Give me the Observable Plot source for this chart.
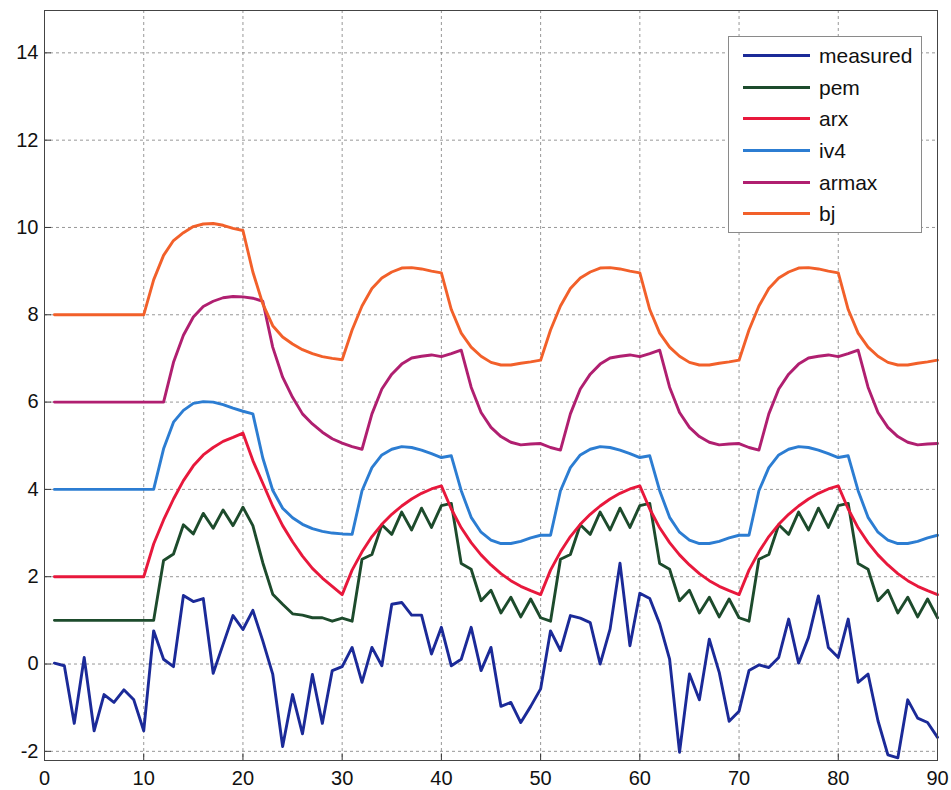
<!DOCTYPE html>
<html>
<head>
<meta charset="utf-8">
<script src="https://cdn.jsdelivr.net/npm/d3@7"></script>
<script src="https://cdn.jsdelivr.net/npm/@observablehq/plot@0.6"></script>
<style>
  body { margin: 0; background: #fff; font-family: "Liberation Sans", Arial, Helvetica, sans-serif; }
  #chart { position: relative; width: 951px; height: 790px; }
  .legend {
    position: absolute; left: 728px; top: 36px; width: 194px; height: 197px;
    box-sizing: border-box; border: 1px solid #8a8a8a; background: #fff;
    padding-top: 3px;
  }
  .legend .row { display: flex; align-items: center; height: 31.6px; }
  .legend .swatch { width: 67px; height: 3px; margin-left: 14px; margin-right: 9px; }
  .legend .label { font-size: 21px; color: #111; line-height: 1; }
</style>
</head>
<body>
<div id="chart"></div>
<script>
// Sample index (time steps 1..90)
const steps = d3.range(1, 91);

const measured = [
  0.02, -0.04, -1.36, 0.15, -1.53, -0.70, -0.88, -0.59, -0.82, -1.53,
  0.76, 0.11, -0.06, 1.57, 1.43, 1.50, -0.21, 0.45, 1.11, 0.79,
  1.23, 0.53, -0.23, -1.89, -0.70, -1.60, -0.24, -1.36, -0.15, -0.06,
  0.38, -0.42, 0.38, -0.04, 1.37, 1.41, 1.12, 1.12, 0.23, 0.84,
  -0.04, 0.11, 0.84, -0.15, 0.38, -0.97, -0.88, -1.34, -0.97, -0.57,
  0.76, 0.31, 1.11, 1.05, 0.95, 0.00, 0.80, 2.31, 0.42, 1.62,
  1.50, 0.92, 0.11, -2.02, -0.23, -0.82, 0.57, -0.19, -1.31, -1.08,
  -0.15, -0.02, -0.08, 0.15, 1.03, 0.02, 0.61, 1.56, 0.38, 0.15,
  1.03, -0.42, -0.23, -1.30, -2.08, -2.15, -0.82, -1.24, -1.34, -1.68
];

const pem = [
  1.00, 1.00, 1.00, 1.00, 1.00, 1.00, 1.00, 1.00, 1.00, 1.00,
  1.00, 2.37, 2.52, 3.19, 2.98, 3.45, 3.11, 3.53, 3.17, 3.59,
  3.17, 2.32, 1.60, 1.37, 1.15, 1.12, 1.06, 1.06, 0.98, 1.05,
  0.98, 2.40, 2.51, 3.19, 2.97, 3.48, 3.07, 3.57, 3.13, 3.63,
  3.68, 2.30, 2.17, 1.45, 1.69, 1.17, 1.53, 1.08, 1.49, 1.06,
  0.98, 2.40, 2.51, 3.19, 2.97, 3.48, 3.07, 3.57, 3.13, 3.63,
  3.68, 2.30, 2.17, 1.45, 1.69, 1.17, 1.53, 1.08, 1.49, 1.06,
  0.98, 2.40, 2.51, 3.19, 2.97, 3.48, 3.07, 3.57, 3.13, 3.63,
  3.68, 2.30, 2.17, 1.45, 1.69, 1.17, 1.53, 1.08, 1.49, 1.06
];

const arx = [
  2.00, 2.00, 2.00, 2.00, 2.00, 2.00, 2.00, 2.00, 2.00, 2.00,
  2.75, 3.30, 3.78, 4.20, 4.54, 4.79, 4.96, 5.10, 5.19, 5.29,
  4.66, 4.14, 3.62, 3.17, 2.80, 2.47, 2.19, 1.97, 1.78, 1.59,
  2.15, 2.57, 2.92, 3.20, 3.43, 3.62, 3.78, 3.91, 4.01, 4.08,
  3.55, 3.12, 2.78, 2.50, 2.27, 2.07, 1.91, 1.78, 1.68, 1.59,
  2.15, 2.57, 2.92, 3.20, 3.43, 3.62, 3.78, 3.91, 4.01, 4.08,
  3.55, 3.12, 2.78, 2.50, 2.27, 2.07, 1.91, 1.78, 1.68, 1.59,
  2.15, 2.57, 2.92, 3.20, 3.43, 3.62, 3.78, 3.91, 4.01, 4.08,
  3.55, 3.12, 2.78, 2.50, 2.27, 2.07, 1.91, 1.78, 1.68, 1.59
];

const iv4 = [
  4.00, 4.00, 4.00, 4.00, 4.00, 4.00, 4.00, 4.00, 4.00, 4.00,
  4.00, 4.93, 5.54, 5.81, 5.97, 6.01, 6.00, 5.94, 5.86, 5.79,
  5.73, 4.72, 3.98, 3.57, 3.35, 3.20, 3.10, 3.04, 3.00, 2.98,
  2.97, 3.97, 4.50, 4.79, 4.92, 4.98, 4.96, 4.90, 4.82, 4.73,
  4.77, 3.97, 3.36, 3.02, 2.84, 2.76, 2.76, 2.81, 2.89, 2.95,
  2.95, 3.97, 4.50, 4.79, 4.92, 4.98, 4.96, 4.90, 4.82, 4.73,
  4.77, 3.97, 3.36, 3.02, 2.84, 2.76, 2.76, 2.81, 2.89, 2.95,
  2.95, 3.97, 4.50, 4.79, 4.92, 4.98, 4.96, 4.90, 4.82, 4.73,
  4.77, 3.97, 3.36, 3.02, 2.84, 2.76, 2.76, 2.81, 2.89, 2.95
];

const armax = [
  6.00, 6.00, 6.00, 6.00, 6.00, 6.00, 6.00, 6.00, 6.00, 6.00,
  6.00, 6.00, 6.91, 7.53, 7.95, 8.19, 8.31, 8.39, 8.42, 8.41,
  8.38, 8.31, 7.26, 6.57, 6.11, 5.73, 5.50, 5.31, 5.16, 5.06,
  4.98, 4.92, 5.73, 6.30, 6.64, 6.87, 7.01, 7.05, 7.08, 7.04,
  7.11, 7.19, 6.34, 5.76, 5.42, 5.21, 5.08, 5.02, 5.04, 5.05,
  4.96, 4.90, 5.73, 6.30, 6.64, 6.87, 7.01, 7.05, 7.08, 7.04,
  7.11, 7.19, 6.34, 5.76, 5.42, 5.21, 5.08, 5.02, 5.04, 5.05,
  4.96, 4.90, 5.73, 6.30, 6.64, 6.87, 7.01, 7.05, 7.08, 7.04,
  7.11, 7.19, 6.34, 5.76, 5.42, 5.21, 5.08, 5.02, 5.04, 5.05
];

const bj = [
  8.00, 8.00, 8.00, 8.00, 8.00, 8.00, 8.00, 8.00, 8.00, 8.00,
  8.80, 9.36, 9.70, 9.88, 10.02, 10.08, 10.09, 10.05, 9.98, 9.93,
  8.98, 8.25, 7.75, 7.49, 7.33, 7.20, 7.11, 7.04, 7.00, 6.97,
  7.65, 8.20, 8.60, 8.84, 8.98, 9.07, 9.08, 9.05, 9.00, 8.96,
  8.12, 7.58, 7.26, 7.05, 6.91, 6.85, 6.85, 6.89, 6.92, 6.96,
  7.65, 8.20, 8.60, 8.84, 8.98, 9.07, 9.08, 9.05, 9.00, 8.96,
  8.12, 7.58, 7.26, 7.05, 6.91, 6.85, 6.85, 6.89, 6.92, 6.96,
  7.65, 8.20, 8.60, 8.84, 8.98, 9.07, 9.08, 9.05, 9.00, 8.96,
  8.12, 7.58, 7.26, 7.05, 6.91, 6.85, 6.85, 6.89, 6.92, 6.96
];

const seriesNames = ["measured", "pem", "arx", "iv4", "armax", "bj"];
const seriesColors = ["#1b2a98", "#1d4b2c", "#e8183c", "#2c7dd2", "#b01f70", "#f2602a"];
const seriesValues = [measured, pem, arx, iv4, armax, bj];

const xTicks = [0, 10, 20, 30, 40, 50, 60, 70, 80, 90];
const yTicks = [-2, 0, 2, 4, 6, 8, 10, 12, 14];

const yMin = -2.21, yMax = 14.97;

const rows = seriesNames.flatMap((name, i) =>
  steps.map((t, j) => ({series: name, t, value: seriesValues[i][j]}))
);

const gridStyle = {stroke: "#808080", strokeOpacity: 0.9, strokeWidth: 0.9, strokeDasharray: "3,3"};

const plot = Plot.plot({
  width: 951,
  height: 790,
  marginLeft: 44,
  marginRight: 14,
  marginTop: 10,
  marginBottom: 30,
  style: {fontFamily: "'Liberation Sans', Arial, Helvetica, sans-serif", fontSize: "20px", background: "#fff", color: "#111"},
  x: {domain: [0, 90]},
  y: {domain: [yMin, yMax]},
  color: {domain: seriesNames, range: seriesColors},
  marks: [
    Plot.gridX(xTicks, gridStyle),
    Plot.gridY(yTicks, gridStyle),
    Plot.axisX(xTicks, {tickSize: 0, tickPadding: 10, tickFormat: d => String(d), label: null}),
    Plot.axisY(yTicks, {tickSize: 0, tickPadding: 6, tickFormat: d => String(d), label: null}),
    // short inward tick marks along the bottom and left edges
    Plot.ruleX(xTicks, {x: d => d, y1: yMin, y2: yMin + 0.15, stroke: "#333"}),
    Plot.ruleY(yTicks, {y: d => d, x1: 0, x2: 0.7, stroke: "#333"}),
    Plot.line(rows, {x: "t", y: "value", z: "series", stroke: "series", strokeWidth: 2.9, strokeLinejoin: "round"}),
    Plot.frame({stroke: "#444", strokeWidth: 1})
  ]
});

const chart = document.getElementById("chart");
chart.appendChild(plot);

// Legend box in the upper right of the axes
const legend = document.createElement("div");
legend.className = "legend";
seriesNames.forEach((name, i) => {
  const row = document.createElement("div");
  row.className = "row";
  const sw = document.createElement("div");
  sw.className = "swatch";
  sw.style.background = seriesColors[i];
  const lb = document.createElement("span");
  lb.className = "label";
  lb.textContent = name;
  row.appendChild(sw);
  row.appendChild(lb);
  legend.appendChild(row);
});
chart.appendChild(legend);
</script>
</body>
</html>
